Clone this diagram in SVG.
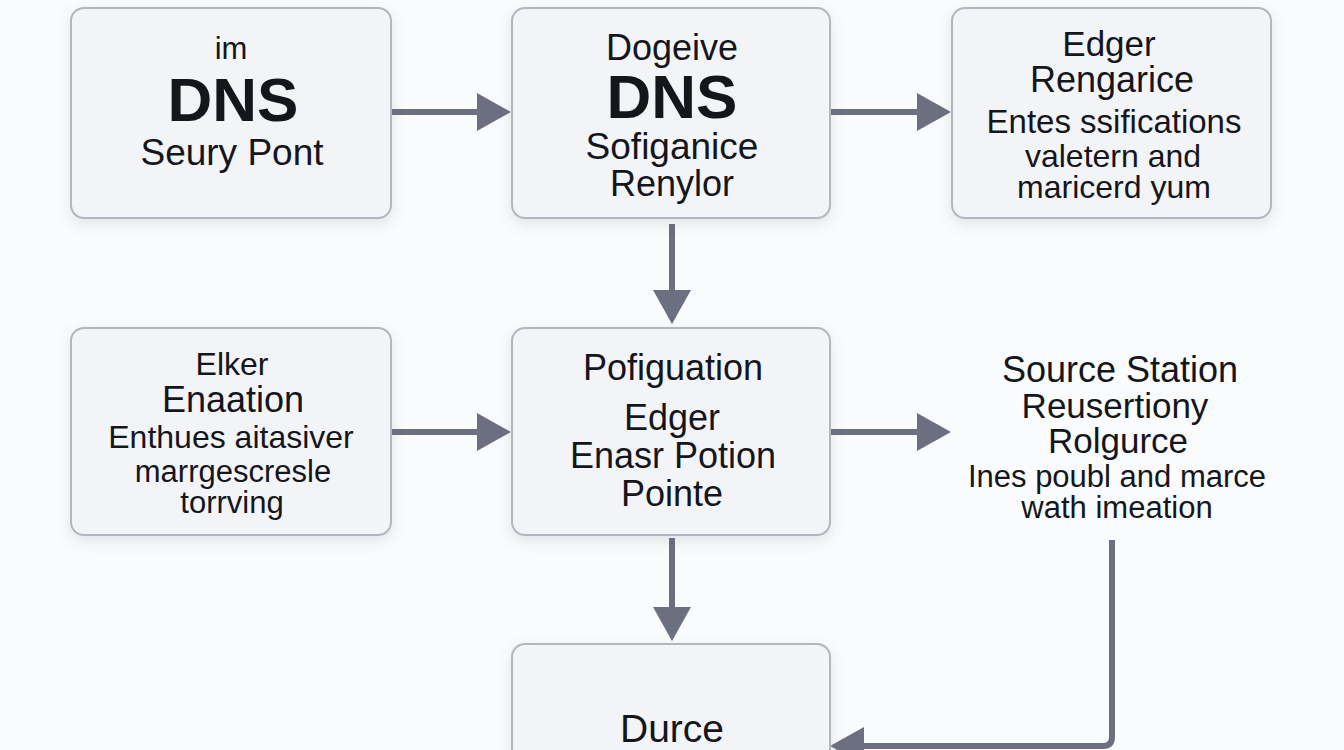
<svg xmlns="http://www.w3.org/2000/svg" width="1344" height="750" viewBox="0 0 1344 750">
<defs>
<filter id="sh" x="-10%" y="-10%" width="120%" height="130%">
<feDropShadow dx="0" dy="5" stdDeviation="7" flood-color="#6a6e80" flood-opacity="0.16"/>
</filter>
<marker id="ah" markerUnits="userSpaceOnUse" markerWidth="34" markerHeight="38" refX="14" refY="19" orient="auto">
<path d="M0,0 L34,19 L0,38 Z" fill="#6c6f80"/>
</marker>
</defs>
<style>
.box{fill:#f3f4f7;stroke:#b4b6bf;stroke-width:2;filter:url(#sh)}
.t{font-family:"Liberation Sans",Arial,sans-serif;fill:#14161b;text-anchor:middle}
.b{font-weight:bold}
.c{fill:none;stroke:#6c6f80;stroke-width:6;marker-end:url(#ah)}
</style>
<rect width="1344" height="750" fill="#fafbfc"/>
<g id="connectors">
<line class="c" x1="392" y1="112" x2="491" y2="112"/>
<line class="c" x1="830" y1="112" x2="931" y2="112"/>
<line class="c" x1="392" y1="432" x2="491" y2="432"/>
<line class="c" x1="830" y1="432" x2="931" y2="432"/>
<line class="c" x1="672" y1="224" x2="672" y2="304"/>
<line class="c" x1="672" y1="538" x2="672" y2="621"/>
<path class="c" d="M1112,540 V737 Q1112,746 1103,746 H850"/>
</g>
<g id="node1">
<rect class="box" x="71" y="8" width="320" height="210" rx="13"/>
<text class="t" x="231" y="59" font-size="31">im</text>
<text class="t b" x="233" y="121" font-size="62">DNS</text>
<text class="t" x="232" y="165" font-size="37">Seury Pont</text>
</g>
<g id="node2">
<rect class="box" x="512" y="8" width="318" height="210" rx="13"/>
<text class="t" x="672" y="60" font-size="36">Dogeive</text>
<text class="t b" x="672" y="118" font-size="62">DNS</text>
<text class="t" x="672" y="159" font-size="37">Sofiganice</text>
<text class="t" x="672" y="196" font-size="36">Renylor</text>
</g>
<g id="node3">
<rect class="box" x="952" y="8" width="319" height="210" rx="13"/>
<text class="t" x="1109" y="56" font-size="35">Edger</text>
<text class="t" x="1112" y="92" font-size="36">Rengarice</text>
<text class="t" x="1114" y="133" font-size="33">Entes ssifications</text>
<text class="t" x="1113" y="167" font-size="32">valetern and</text>
<text class="t" x="1114" y="198" font-size="32">maricerd yum</text>
</g>
<g id="node4">
<rect class="box" x="71" y="328" width="320" height="207" rx="13"/>
<text class="t" x="232" y="375" font-size="32">Elker</text>
<text class="t" x="233" y="412" font-size="36">Enaation</text>
<text class="t" x="231" y="448" font-size="32">Enthues aitasiver</text>
<text class="t" x="233" y="482" font-size="31">marrgescresle</text>
<text class="t" x="232" y="513" font-size="31">torrving</text>
</g>
<g id="node5">
<rect class="box" x="512" y="328" width="318" height="207" rx="13"/>
<text class="t" x="673" y="380" font-size="36">Pofiguation</text>
<text class="t" x="672" y="430" font-size="36">Edger</text>
<text class="t" x="673" y="468" font-size="36">Enasr Potion</text>
<text class="t" x="672" y="506" font-size="36">Pointe</text>
</g>
<g id="node6">
<text class="t" x="1120" y="382" font-size="36">Source Station</text>
<text class="t" x="1115" y="418" font-size="35">Reusertiony</text>
<text class="t" x="1118" y="453" font-size="35">Rolgurce</text>
<text class="t" x="1117" y="487" font-size="31">Ines poubl and marce</text>
<text class="t" x="1117" y="518" font-size="31">wath imeation</text>
</g>
<g id="node7">
<rect class="box" x="512" y="644" width="318" height="140" rx="13"/>
<text class="t" x="672" y="742" font-size="39">Durce</text>
</g>
</svg>
